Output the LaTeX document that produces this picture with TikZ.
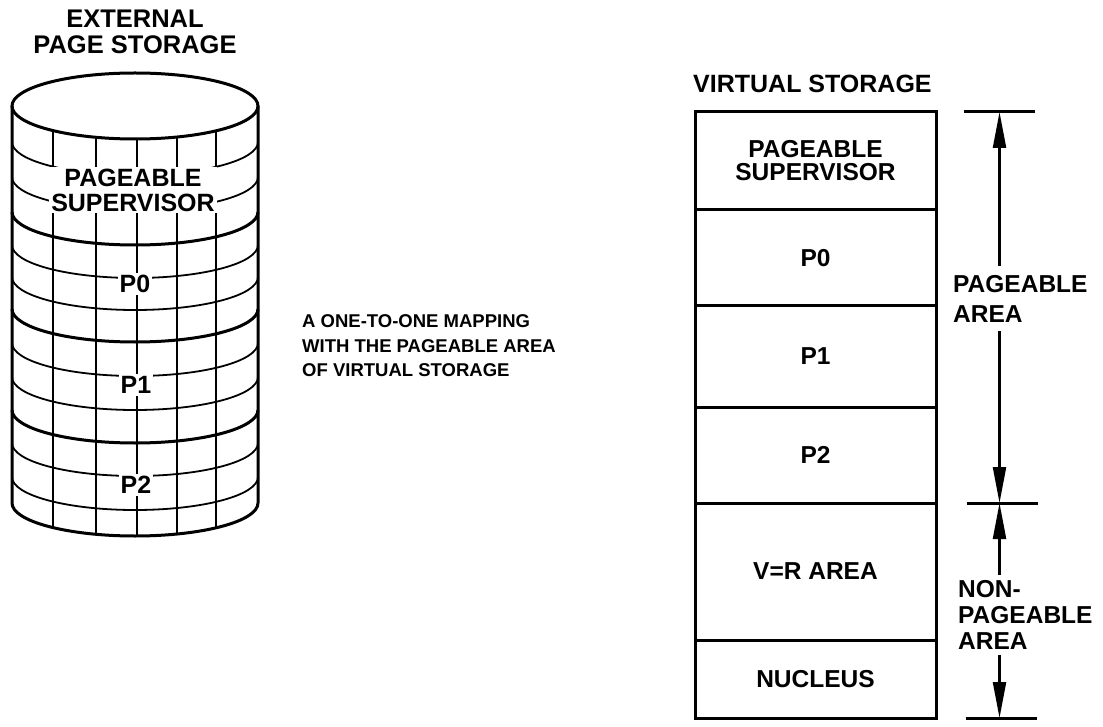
\documentclass[tikz,border=0pt]{standalone}
\usepackage{fontspec}
\setmainfont{Liberation Sans}
\usetikzlibrary{arrows.meta,positioning}

\begin{document}
\begin{tikzpicture}[
  x=1pt, y=1pt,
  lbl/.style={font=\bfseries\fontsize{25}{25}\selectfont, align=center},
  row/.style={draw, line width=3pt, minimum width=241pt, outer sep=0pt,
              inner sep=0pt, font=\bfseries\fontsize{24.5}{23}\selectfont, align=center},
  disktext/.style={lbl, fill=white, inner sep=2pt},
  rim/.style={line width=3pt},
  band/.style={line width=1.8pt},
  dimline/.style={line width=2.2pt, -{Triangle[length=36pt,width=13pt]}},
  bar/.style={line width=3pt}
]
  \useasboundingbox (0,0) rectangle (1103,-727);

  % external page storage (disk)
  \node[lbl, inner sep=0pt, font=\bfseries\fontsize{25.5}{26}\selectfont] (exthead) at (135,-31.5) {EXTERNAL\\PAGE STORAGE};
  \foreach \x in {53,96,137,177,216}{
    \pgfmathsetmacro\dy{33*sqrt(1-((\x-135)/123)^2)}
    \draw[band] (\x,{-106-\dy}) -- (\x,{-503-\dy});
  }
  \foreach \y in {142,177,245,277,343,377,443,477}
    \draw[band] (12,-\y) arc[start angle=180, end angle=360, x radius=123, y radius=33];
  \foreach \y in {212,309,410}
    \draw[rim] (12,-\y) arc[start angle=180, end angle=360, x radius=123, y radius=33];
  \draw[rim] (135,-106) ellipse [x radius=123, y radius=33];
  \draw[rim] (12,-106) -- (12,-503) arc[start angle=180, end angle=360, x radius=123, y radius=33] -- (258,-106);
  \node[disktext] (dsup) at (133,-190) {PAGEABLE\\SUPERVISOR};
  \node[disktext] (dp0) at (135,-284) {P0};
  \node[disktext] (dp1) at (136,-385) {P1};
  \node[disktext] (dp2) at (136,-485) {P2};

  \node[anchor=west, align=left, inner sep=0pt,
        font=\bfseries\fontsize{18.5}{24.5}\selectfont] (maptext) at (302,-346)
        {A ONE-TO-ONE MAPPING\\WITH THE PAGEABLE AREA\\OF VIRTUAL STORAGE};

  % virtual storage
  \node[row, minimum height=98pt] (vsup) at (815.5,-161) {PAGEABLE\\SUPERVISOR};
  \node[row, minimum height=96pt, below=0pt of vsup] (vp0) {P0};
  \node[row, minimum height=101pt, below=0pt of vp0] (vp1) {P1};
  \node[row, minimum height=96pt, below=0pt of vp1] (vp2) {P2};
  \node[row, minimum height=137pt, below=0pt of vp2] (vvr) {V=R AREA};
  \node[row, minimum height=78pt, below=0pt of vvr] (vnuc) {NUCLEUS};
  \node[lbl, anchor=base west, inner sep=0pt] (vshead) at ([xshift=-2pt,yshift=19pt]vsup.north west) {VIRTUAL STORAGE};

  \coordinate (pgtop) at ([xshift=63.5pt]vsup.north east);
  \coordinate (pgmid) at (vvr.north -| pgtop);
  \coordinate (pgbot) at (vnuc.south -| pgtop);
  \draw[bar] ([xshift=-36pt]pgtop) -- ([xshift=35pt]pgtop);
  \draw[bar] ([xshift=-33pt]pgmid) -- ([xshift=38pt]pgmid);
  \draw[bar] ([xshift=-34pt]pgbot) -- ([xshift=37pt]pgbot);

  \node[lbl, align=left, anchor=west, inner xsep=0pt, inner ysep=9pt,
        font=\bfseries\fontsize{24.5}{30}\selectfont] (pglab) at (953,-298.5) {PAGEABLE\\AREA};
  \node[lbl, align=left, anchor=west, inner xsep=0pt, inner ysep=5pt,
        font=\bfseries\fontsize{24.5}{26}\selectfont] (nplab) at (958,-615) {NON-\\PAGEABLE\\AREA};
  \draw[dimline] (pglab.north -| pgtop) -- (pgtop);
  \draw[dimline] (pglab.south -| pgtop) -- (pgmid);
  \draw[dimline] (nplab.north -| pgmid) -- (pgmid);
  \draw[dimline] (nplab.south -| pgbot) -- (pgbot);
\end{tikzpicture}
\end{document}
